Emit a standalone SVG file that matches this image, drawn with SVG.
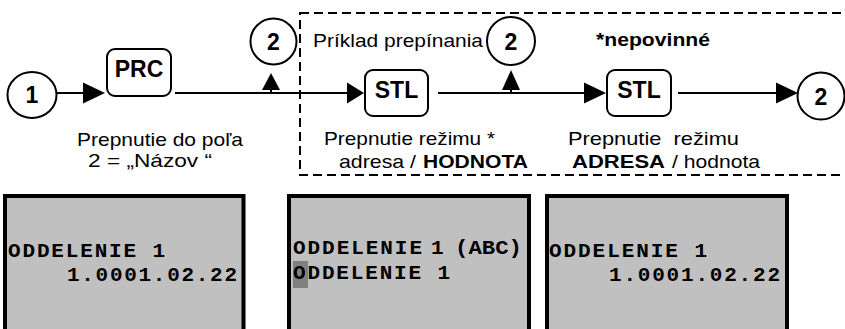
<svg xmlns="http://www.w3.org/2000/svg" width="845" height="329" viewBox="0 0 845 329">
<defs>
<style>
.lbl{font-family:"Liberation Sans",Arial,sans-serif;font-size:19px;fill:#000}
.b{font-weight:bold}
.key{font-family:"Liberation Sans",Arial,sans-serif;font-size:23px;font-weight:bold;fill:#000;text-anchor:middle}
.box{fill:#fff;stroke:#000;stroke-width:2}
.circ{fill:#fff;stroke:#000;stroke-width:2}
.ln{stroke:#000;stroke-width:2;fill:none}
.head{fill:#000}
.lcd{fill:#c0c0c0;stroke:#000;stroke-width:4}
.mono{font-family:"Liberation Mono","Courier New",monospace;font-size:21px;font-weight:bold;fill:#000}
</style>
</defs>
<rect width="845" height="329" fill="#fff"/>
<g id="example-frame">
<rect x="300" y="13" width="560" height="162" fill="none" stroke="#000" stroke-width="2" stroke-dasharray="9 5"/>
<text class="lbl" x="313" y="47" textLength="170" lengthAdjust="spacingAndGlyphs">Príklad prepínania</text>
<text class="lbl b" x="596" y="46" textLength="114" lengthAdjust="spacingAndGlyphs">*nepovinné</text>
</g>
<g id="connectors">
<line class="ln" x1="57" y1="93" x2="90" y2="93"/>
<polygon class="head" points="105,93 83,82.5 83,103.5"/>
<line class="ln" x1="175" y1="93" x2="350" y2="93"/>
<polygon class="head" points="364,93 347,82.5 347,103.5"/>
<line class="ln" x1="271" y1="93" x2="271" y2="86"/>
<polygon class="head" points="271,73 262,90 280,90"/>
<line class="ln" x1="438" y1="93" x2="590" y2="93"/>
<polygon class="head" points="606,93 584,82.5 584,103.5"/>
<line class="ln" x1="511" y1="93" x2="511" y2="86"/>
<polygon class="head" points="511,70 502,90 520,90"/>
<line class="ln" x1="678" y1="93" x2="782" y2="93"/>
<polygon class="head" points="798,93 776,82.5 776,103.5"/>
</g>
<g id="start1">
<ellipse class="circ" cx="32" cy="95" rx="24.5" ry="23"/>
<text class="key" x="32" y="103">1</text>
</g>
<g id="prc">
<rect class="box" x="107" y="49" width="64" height="47" rx="8"/>
<text class="key" x="139" y="77">PRC</text>
<text class="lbl" x="77" y="146" textLength="166" lengthAdjust="spacingAndGlyphs">Prepnutie do poľa</text>
<text class="lbl" x="88" y="167" textLength="124" lengthAdjust="spacingAndGlyphs">2 = „Názov “</text>
</g>
<g id="goto2a">
<ellipse class="circ" cx="273.5" cy="41.5" rx="23" ry="23"/>
<text class="key" x="273.5" y="50">2</text>
</g>
<g id="stl1">
<rect class="box" x="365" y="70" width="63" height="46" rx="8"/>
<text class="key" x="396.5" y="98">STL</text>
<text class="lbl" x="324" y="145" textLength="171" lengthAdjust="spacingAndGlyphs">Prepnutie režimu *</text>
<text class="lbl" x="339" y="168" textLength="77" lengthAdjust="spacingAndGlyphs">adresa /</text>
<text class="lbl b" x="423" y="168" textLength="105" lengthAdjust="spacingAndGlyphs">HODNOTA</text>
</g>
<g id="goto2b">
<ellipse class="circ" cx="511" cy="41" rx="24" ry="24"/>
<text class="key" x="511" y="49.5">2</text>
</g>
<g id="stl2">
<rect class="box" x="607" y="70" width="64" height="46" rx="8"/>
<text class="key" x="639" y="98">STL</text>
<text class="lbl" x="568" y="145" textLength="171" lengthAdjust="spacingAndGlyphs" xml:space="preserve">Prepnutie  režimu</text>
<text class="lbl b" x="572" y="168" textLength="93" lengthAdjust="spacingAndGlyphs">ADRESA</text>
<text class="lbl" x="672" y="168" textLength="88" lengthAdjust="spacingAndGlyphs">/ hodnota</text>
</g>
<g id="goto2c">
<ellipse class="circ" cx="821" cy="96" rx="23.5" ry="23.5"/>
<text class="key" x="821" y="104.5">2</text>
</g>
<g id="lcd1">
<rect class="lcd" x="5" y="196" width="238.5" height="150"/>
<text class="mono" x="8" y="257" textLength="157" lengthAdjust="spacing" xml:space="preserve">ODDELENIE 1</text>
<text class="mono" x="67" y="281" textLength="170" lengthAdjust="spacing">1.0001.02.22</text>
</g>
<g id="lcd2">
<rect class="lcd" x="289" y="196" width="240" height="150"/>
<rect x="293" y="261" width="15" height="27" fill="#808080"/>
<text class="mono" y="254"><tspan x="293" textLength="129" lengthAdjust="spacing">ODDELENIE</tspan><tspan x="431">1</tspan><tspan x="455" textLength="67" lengthAdjust="spacingAndGlyphs">(ABC)</tspan></text>
<text class="mono" x="293" y="279" textLength="157" lengthAdjust="spacing" xml:space="preserve">ODDELENIE 1</text>
</g>
<g id="lcd3">
<rect class="lcd" x="547" y="196" width="240" height="150"/>
<text class="mono" x="549" y="257" textLength="158" lengthAdjust="spacing" xml:space="preserve">ODDELENIE 1</text>
<text class="mono" x="609" y="281" textLength="171" lengthAdjust="spacing">1.0001.02.22</text>
</g>
</svg>
